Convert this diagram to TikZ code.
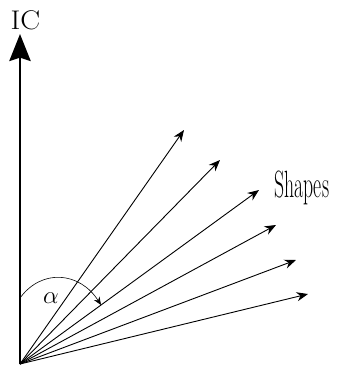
\documentclass[tikz,border=0pt]{standalone}
\usepackage{fontspec}
\usetikzlibrary{arrows.meta}
\tikzset{
  axisline/.style={-{Stealth[length=9.5mm,width=7.5mm,inset=1.2mm]},line width=1.8pt,draw=black},
  shapeline/.style={-{Stealth[length=4mm,width=3.2mm]},line width=0.9pt,draw=black},
  angleline/.style={-{Stealth[length=2.8mm,width=2.3mm]},line width=0.6pt,draw=black},
  label/.style={inner sep=0pt,text=black}
}

\begin{document}
\begin{tikzpicture}[x=1pt,y=-1pt]
  \useasboundingbox (0,0) rectangle (337,368);
  \coordinate (o) at (20,364);
  \coordinate (ictip) at (20,34);
  \coordinate (a1) at (184,130);
  \coordinate (a2) at (220,160);
  \coordinate (a3) at (259,190);
  \coordinate (a4) at (276,225);
  \coordinate (a5) at (296,260);
  \coordinate (a6) at (308,294);
  \coordinate (arcstart) at (20,298);
  \coordinate (arcend) at (101,305);
  \node[label,font=\fontsize{27}{27}\selectfont,xscale=1.1,anchor=base] (ic) at (25.5,29) {IC};
  \node[label,font=\fontsize{38}{38}\selectfont,xscale=0.52,anchor=base west] (shapes) at (274,197) {Shapes};
  \node[label,font=\fontsize{24}{24}\selectfont,anchor=base] (alpha) at (51,303) {$\alpha$};
  \draw[axisline] (o) -- (ictip);
  \foreach \t in {a1,a2,a3,a4,a5,a6}
    \draw[shapeline] (o) -- (\t);
  \draw[angleline] (arcstart) .. controls (42,268) and (80,272) .. (arcend);
\end{tikzpicture}
\end{document}
